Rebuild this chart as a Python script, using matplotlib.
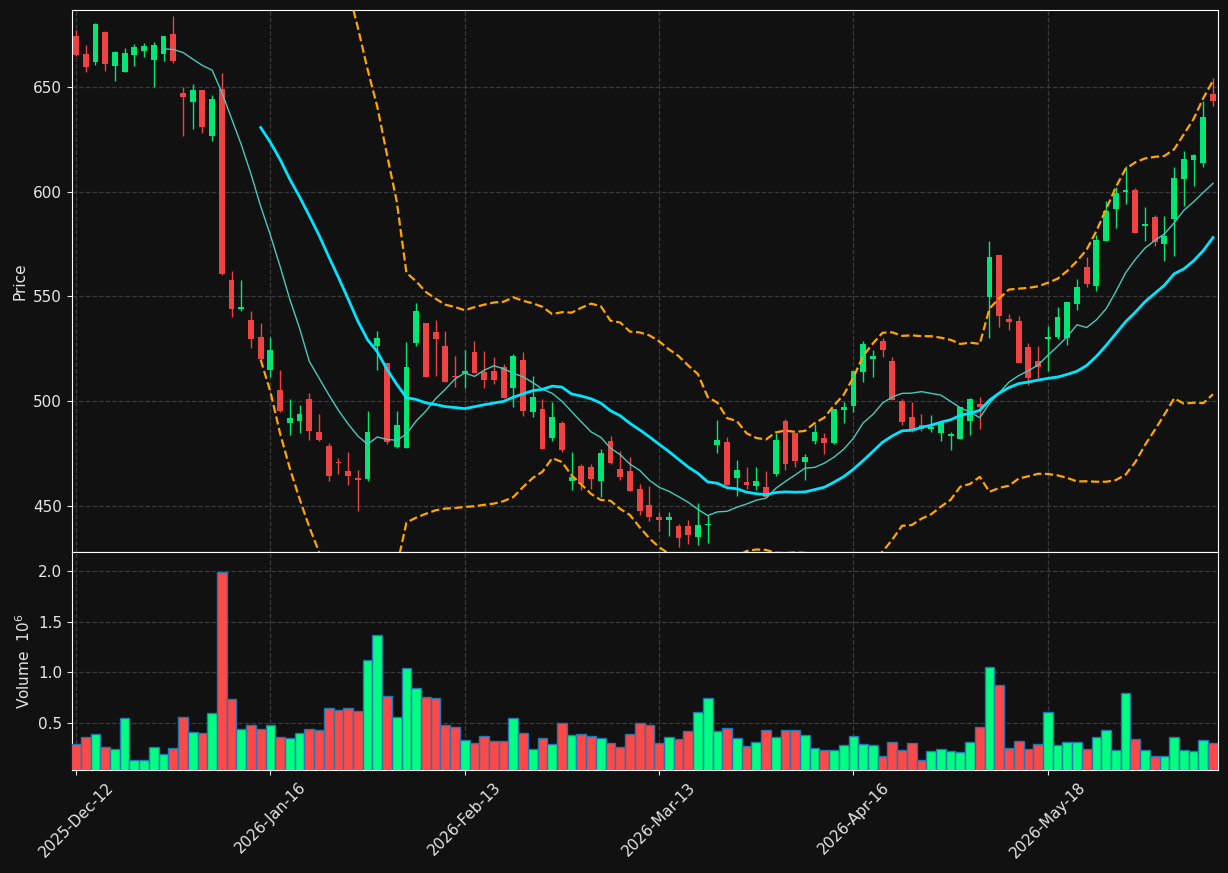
import numpy as np
import pandas as pd
import matplotlib.pyplot as plt

# OHLC, one entry per trading bar
opens = [674.4, 665.8, 662.1, 676.2, 660.2, 657.3, 665.5, 667.2, 663.1, 666.0,
         675.4, 647.3, 643.0, 648.6, 626.8, 649.1, 558.0, 543.9, 538.9, 530.7,
         514.7, 505.5, 489.3, 490.4, 500.8, 485.1, 478.3, 471.1, 466.4, 463.1,
         462.8, 526.1, 518.0, 478.1, 477.6, 527.7, 537.4, 532.8, 526.5, 512.2,
         513.2, 523.6, 514.1, 514.6, 516.1, 506.2, 519.8, 494.8, 496.0, 482.4,
         489.3, 461.6, 469.2, 468.7, 461.6, 480.7, 467.4, 466.4, 457.8, 450.2,
         444.7, 443.2, 440.3, 440.3, 435.2, 440.6, 479.0, 480.3, 463.3, 461.2,
         459.2, 458.9, 465.0, 490.5, 484.9, 470.9, 480.7, 482.2, 479.8, 495.7,
         497.7, 513.9, 520.0, 528.9, 519.2, 500.1, 492.6, 488.8, 486.8, 484.8,
         483.2, 482.0, 490.5, 498.5, 549.7, 569.9, 539.4, 538.4, 525.6, 519.2,
         529.7, 530.4, 530.1, 546.6, 564.1, 554.8, 576.7, 591.6, 599.7, 600.9,
         583.4, 588.0, 574.9, 586.8, 605.9, 615.4, 613.5, 646.8]
highs = [677.1, 669.9, 680.8, 676.7, 667.0, 668.9, 670.4, 671.0, 671.3, 674.4,
         683.9, 649.8, 651.4, 648.6, 646.1, 656.6, 562.1, 557.8, 543.0, 537.4,
         530.4, 514.9, 500.8, 498.2, 503.7, 494.0, 479.8, 472.7, 475.6, 467.0,
         495.3, 533.5, 518.0, 495.3, 528.4, 546.9, 537.4, 538.8, 533.5, 521.7,
         524.3, 528.9, 523.9, 521.0, 517.5, 522.7, 523.6, 512.2, 500.8, 499.6,
         490.5, 475.9, 469.8, 469.8, 477.3, 483.4, 476.2, 473.3, 460.4, 459.5,
         447.1, 446.8, 441.1, 443.4, 451.4, 445.7, 491.1, 482.9, 472.0, 468.4,
         468.4, 466.7, 484.6, 491.2, 484.9, 474.9, 489.2, 484.9, 496.0, 499.6,
         514.4, 528.9, 524.6, 530.1, 521.2, 501.1, 499.6, 493.6, 493.4, 489.3,
         485.4, 497.4, 501.3, 502.0, 576.4, 569.9, 541.7, 540.6, 527.7, 526.3,
         535.9, 544.7, 547.1, 558.3, 568.9, 579.1, 595.5, 602.1, 612.4, 602.0,
         592.8, 588.7, 588.2, 611.8, 619.5, 618.1, 643.5, 654.4]
lows = [664.8, 657.3, 660.7, 657.8, 653.1, 657.3, 660.2, 664.3, 649.8, 662.3,
        661.4, 626.8, 630.2, 628.0, 624.1, 560.0, 540.0, 543.0, 525.5, 519.5,
        511.3, 494.8, 483.7, 484.9, 481.5, 480.7, 461.6, 465.3, 459.9, 447.6,
        461.6, 514.7, 479.5, 477.6, 477.6, 526.3, 511.5, 511.8, 508.9, 506.7,
        506.4, 513.2, 506.4, 508.1, 501.3, 497.4, 493.1, 492.2, 477.1, 481.0,
        475.9, 457.7, 457.7, 458.2, 454.4, 469.9, 462.4, 457.0, 445.4, 442.8,
        437.7, 435.7, 430.1, 431.8, 431.3, 432.3, 475.2, 459.9, 454.8, 458.2,
        457.3, 454.1, 464.0, 467.0, 468.4, 462.4, 479.5, 474.9, 479.5, 489.7,
        494.8, 509.3, 511.7, 521.2, 500.4, 488.5, 485.1, 485.8, 485.4, 480.7,
        476.6, 482.0, 483.7, 486.8, 530.1, 535.5, 534.0, 518.0, 507.6, 511.0,
        514.4, 529.7, 526.7, 543.4, 554.3, 552.6, 576.7, 582.5, 594.0, 580.2,
        576.4, 574.0, 566.9, 569.2, 593.4, 602.6, 611.8, 641.1]
closes = [665.5, 659.4, 680.2, 661.2, 666.7, 666.4, 669.1, 669.6, 670.1, 674.4,
          662.6, 645.1, 648.6, 630.7, 644.4, 560.6, 543.9, 545.1, 529.6, 520.0,
          524.6, 495.1, 491.7, 493.6, 485.6, 481.2, 464.2, 470.4, 464.2, 462.3,
          485.4, 529.9, 480.3, 488.8, 516.1, 543.2, 511.5, 529.6, 509.3, 511.5,
          514.4, 513.2, 510.0, 510.0, 501.3, 521.7, 495.1, 502.0, 477.1, 492.2,
          476.6, 463.6, 460.6, 462.8, 475.0, 470.3, 463.6, 457.0, 447.4, 444.7,
          443.2, 444.7, 434.7, 436.0, 440.6, 441.1, 481.2, 459.9, 466.9, 459.9,
          461.6, 454.1, 481.2, 469.8, 471.3, 473.2, 485.4, 479.8, 496.0, 497.4,
          514.4, 527.3, 521.7, 524.3, 500.4, 490.0, 486.8, 486.8, 487.6, 489.3,
          484.2, 497.0, 500.8, 497.4, 568.9, 540.5, 537.9, 518.0, 511.0, 516.4,
          530.4, 540.0, 547.1, 554.3, 555.8, 577.1, 590.9, 599.6, 600.9, 580.2,
          584.8, 576.2, 579.0, 606.7, 615.8, 617.6, 635.7, 643.4]
# volume in millions
volumes = [0.291, 0.361, 0.391, 0.262, 0.242, 0.550, 0.132, 0.132, 0.262, 0.192,
           0.252, 0.560, 0.411, 0.401, 0.599, 1.990, 0.738, 0.440, 0.480, 0.440,
           0.480, 0.361, 0.351, 0.401, 0.440, 0.430, 0.649, 0.629, 0.649, 0.619,
           1.126, 1.374, 0.768, 0.560, 1.046, 0.848, 0.758, 0.748, 0.480, 0.460,
           0.331, 0.301, 0.371, 0.321, 0.321, 0.550, 0.401, 0.242, 0.351, 0.291,
           0.500, 0.381, 0.391, 0.371, 0.351, 0.301, 0.262, 0.391, 0.500, 0.480,
           0.301, 0.361, 0.341, 0.421, 0.609, 0.748, 0.421, 0.450, 0.351, 0.272,
           0.311, 0.430, 0.361, 0.430, 0.430, 0.381, 0.252, 0.232, 0.232, 0.281,
           0.371, 0.291, 0.281, 0.172, 0.311, 0.232, 0.301, 0.132, 0.222, 0.242,
           0.222, 0.212, 0.311, 0.460, 1.056, 0.877, 0.252, 0.321, 0.242, 0.291,
           0.609, 0.281, 0.311, 0.311, 0.242, 0.361, 0.430, 0.232, 0.798, 0.341,
           0.232, 0.172, 0.172, 0.361, 0.232, 0.222, 0.331, 0.301]
tick_pos = [0, 20, 40, 60, 80, 100]
tick_labels = ['2025-Dec-12', '2026-Jan-16', '2026-Feb-13',
               '2026-Mar-13', '2026-Apr-16', '2026-May-18']

bg = '#111111'
txt = '#e6e6e6'
up, down = '#00e676', '#ef4343'
vup, vdown = '#00ff80', '#ff4848'

x = np.arange(len(closes))
o = np.array(opens)
c = np.array(closes)
is_up = c >= o

close_s = pd.Series(closes)
ma10 = close_s.rolling(10).mean()
ma20 = close_s.rolling(20).mean()
sd20 = close_s.rolling(20).std()

fig = plt.figure(figsize=(12.28, 8.73), dpi=100, facecolor=bg)
ax = fig.add_axes([0.0586, 0.3677, 0.9333, 0.6208], facecolor=bg)
axv = fig.add_axes([0.0586, 0.1180, 0.9333, 0.2497], facecolor=bg, sharex=ax)

# candles
cols = [up if u else down for u in is_up]
ax.vlines(x, lows, highs, colors=cols, linewidth=1.0, zorder=3)
ax.bar(x, np.maximum(np.abs(c - o), 0.3), bottom=np.minimum(o, c),
       width=0.6, color=cols, zorder=4)

# moving averages + bands
ax.plot(x, ma10, color='#48c9bd', linewidth=1.0, zorder=5)
ax.plot(x, ma20, color='#00e5ff', linewidth=2.0, zorder=5)
ax.plot(x, ma20 + 2 * sd20, color='#ffa500', linestyle='--', linewidth=1.6, zorder=5)
ax.plot(x, ma20 - 2 * sd20, color='#ffa500', linestyle='--', linewidth=1.6, zorder=5)

# volume
vcols = [vup if u else vdown for u in is_up]
axv.bar(x, volumes, width=1.0, color=vcols, edgecolor='#1f77b4', linewidth=1.0, zorder=3)

ax.set_xlim(-0.42, 117.52)
ax.set_ylim(427.9, 686.8)
axv.set_ylim(0.036, 2.19)
ax.set_yticks([450, 500, 550, 600, 650])
axv.set_yticks([0.5, 1.0, 1.5, 2.0])
axv.set_xticks(tick_pos)
axv.set_xticklabels(tick_labels, rotation=45, ha='center')
ax.tick_params(axis='x', labelbottom=False, length=0)

ax.set_ylabel('Price', color=txt, fontsize=11)
axv.set_ylabel('Volume  $10^{6}$', color=txt, fontsize=11)

for a in (ax, axv):
    a.grid(True, linestyle='--', color='#3a3a3a', linewidth=0.9)
    a.set_axisbelow(True)
    a.tick_params(colors=txt, labelsize=11)
    for s in a.spines.values():
        s.set_color('white')

fig.savefig('out.png', dpi=100, facecolor=bg)
